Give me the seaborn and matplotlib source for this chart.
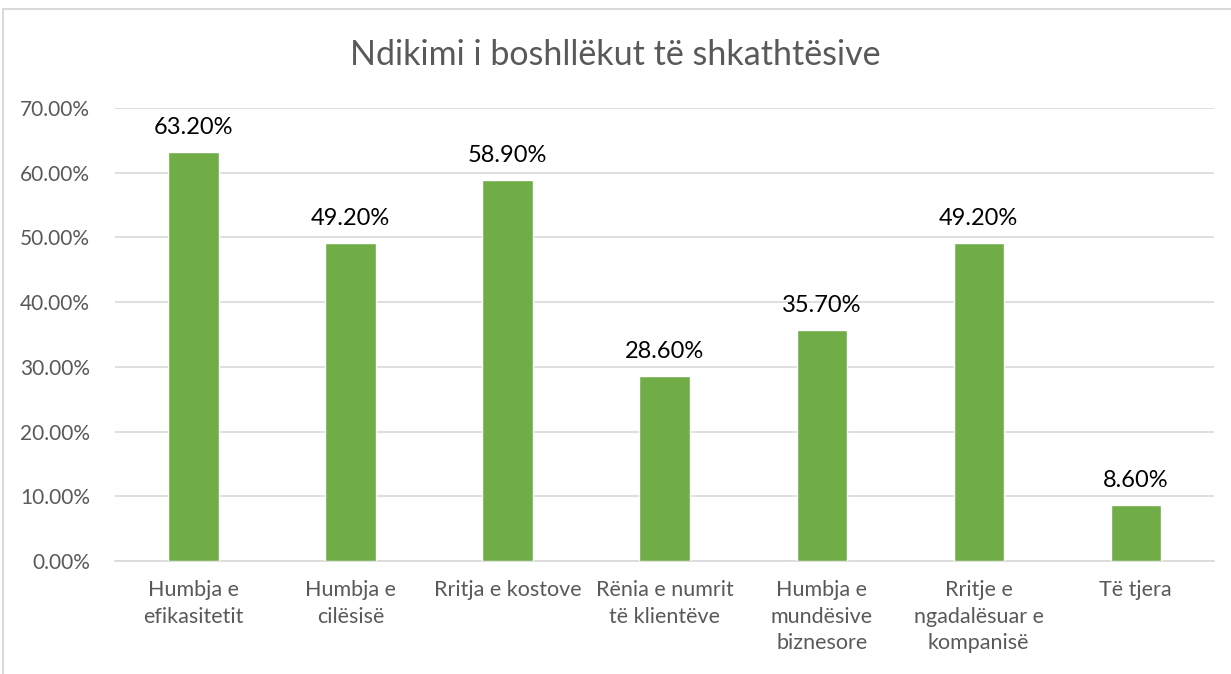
import pandas as pd
import matplotlib
matplotlib.use("Agg")
import matplotlib.pyplot as plt
from matplotlib.lines import Line2D
import seaborn as sns

# Data
categories = ["Humbja e\nefikasitetit", "Humbja e\ncilësisë", "Rritja e kostove",
              "Rënia e numrit\ntë klientëve", "Humbja e\nmundësive\nbiznesore",
              "Rritje e\nngadalësuar e\nkompanisë", "Të tjera"]
values = [63.2, 49.2, 58.9, 28.6, 35.7, 49.2, 8.6]
yticks = [0, 10, 20, 30, 40, 50, 60, 70]

df = pd.DataFrame({"category": categories, "value": values})

sns.set_style("white")
plt.rcParams['font.family'] = ['Lato', 'DejaVu Sans']

grey = "#595959"
fig = plt.figure(figsize=(12.31, 6.74), dpi=100)
ax = fig.add_axes([0.0934, 0.1677, 0.893, 0.6721])

sns.barplot(data=df, x="category", y="value", color="#70AD47", saturation=1,
            width=0.32, ax=ax, zorder=3)

ax.set_ylim(0, 70)
ax.set_xlim(-0.5, len(categories) - 0.5)
ax.set_yticks(yticks)
ax.set_yticklabels([f"{t:.2f}%" for t in yticks], color=grey, fontsize=15)
ax.tick_params(axis="y", length=0, pad=18)
ax.tick_params(axis="x", length=0, pad=14, labelsize=15.5, labelcolor=grey)
ax.set_xlabel("")
ax.set_ylabel("")
ax.yaxis.grid(True, color="#D9D9D9", lw=1.2, zorder=0)
for s in ["top", "right", "left"]:
    ax.spines[s].set_visible(False)
ax.spines["bottom"].set_color("#D9D9D9")
ax.spines["bottom"].set_linewidth(1.2)
for lbl in ax.get_xticklabels():
    lbl.set_linespacing(1.4)
    lbl.set_verticalalignment("top")

# value labels above bars
for i, v in enumerate(values):
    ax.annotate(f"{v:.2f}%", (i, v), xytext=(0, 10), textcoords="offset points",
                ha="center", va="bottom", fontsize=17, color="black")

fig.text(0.5, 0.918, "Ndikimi i boshllëkut të shkathtësive", ha="center", va="center",
         fontsize=24.5, color=grey)

# chart frame (left and top edges visible)
fig.add_artist(Line2D([0.0028, 0.0028], [0, 0.9866], color="#D9D9D9", lw=1.5,
                      transform=fig.transFigure))
fig.add_artist(Line2D([0.0028, 1.0], [0.9866, 0.9866], color="#D9D9D9", lw=1.5,
                      transform=fig.transFigure))

fig.savefig("out.png", dpi=100)
